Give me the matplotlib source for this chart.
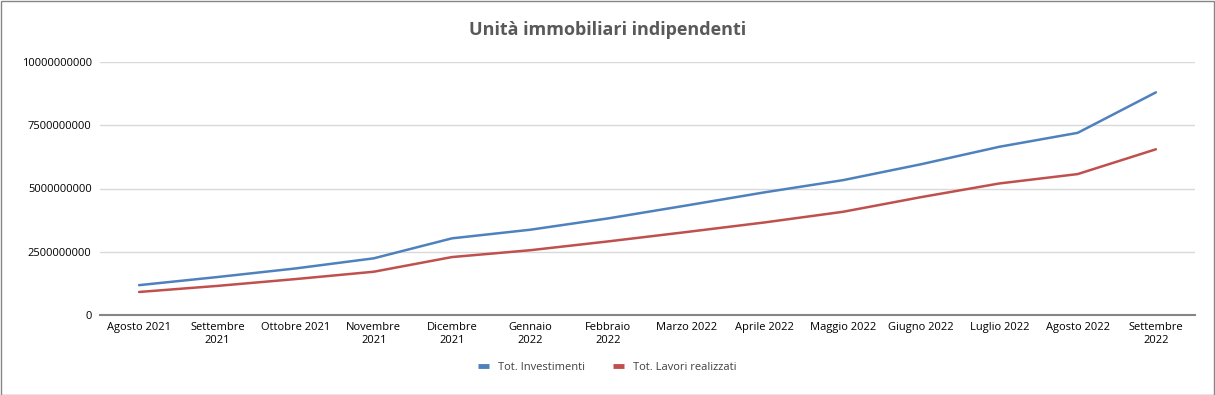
import matplotlib.pyplot as plt
from matplotlib.ticker import FixedLocator, FuncFormatter

months = ["Agosto 2021", "Settembre\n2021", "Ottobre 2021", "Novembre\n2021",
          "Dicembre\n2021", "Gennaio\n2022", "Febbraio\n2022", "Marzo 2022",
          "Aprile 2022", "Maggio 2022", "Giugno 2022", "Luglio 2022",
          "Agosto 2022", "Settembre\n2022"]
investimenti = [1.18e9, 1.50e9, 1.84e9, 2.24e9, 3.03e9, 3.37e9, 3.82e9,
                4.33e9, 4.85e9, 5.33e9, 5.96e9, 6.65e9, 7.20e9, 8.80e9]
lavori = [0.91e9, 1.15e9, 1.42e9, 1.71e9, 2.29e9, 2.56e9, 2.91e9,
          3.28e9, 3.66e9, 4.08e9, 4.66e9, 5.20e9, 5.57e9, 6.55e9]
yticks = [0, 2500000000, 5000000000, 7500000000, 10000000000]

plt.rcParams['font.family'] = ['Open Sans', 'DejaVu Sans']

fig = plt.figure(figsize=(12.15, 3.95), dpi=100)
ax = fig.add_axes([100 / 1215, 80 / 395, 1095 / 1215, 253 / 395])

x = [i + 0.5 for i in range(len(months))]
ax.plot(x, investimenti, color="#4f81bd", lw=1.8, label="Tot. Investimenti",
        solid_capstyle="round")
ax.plot(x, lavori, color="#c0504d", lw=1.8, label="Tot. Lavori realizzati",
        solid_capstyle="round")

ax.set_xlim(0, len(months))
ax.set_ylim(0, 10000000000)
ax.yaxis.set_major_locator(FixedLocator(yticks))
ax.yaxis.set_major_formatter(FuncFormatter(lambda v, p: "%d" % v))
ax.set_xticks(x)
ax.set_xticklabels(months, fontsize=8, color="#000000", linespacing=1.25)
ax.tick_params(axis="y", labelsize=8, length=0, pad=6)
ax.tick_params(axis="x", length=0, pad=5)

ax.grid(axis="y", color="#d9d9d9", lw=1)
ax.set_axisbelow(True)
for s in ["top", "right", "left"]:
    ax.spines[s].set_visible(False)
ax.spines["bottom"].set_color("#868686")
ax.spines["bottom"].set_linewidth(1.5)

fig.text(0.5, 1 - 30 / 395, "Unità immobiliari indipendenti", ha="center", va="center",
         fontsize=13, fontweight="bold", color="#595959")

leg = fig.legend(loc="center", bbox_to_anchor=(0.5, 1 - 367 / 395), ncol=2, frameon=False,
                 fontsize=8, handlelength=1.0, handletextpad=0.8, columnspacing=2.5,
                 labelcolor="#404040")
for h in leg.legend_handles:
    h.set_linewidth(3.5)
    h.set_solid_capstyle("butt")

fig.patches.append(plt.Rectangle((0.5 / 1215, 0.5 / 395), 1 - 1.5 / 1215, 1 - 1.5 / 395,
                                 transform=fig.transFigure, fill=False,
                                 edgecolor="#868686", lw=1))

fig.savefig("out.png", dpi=100)
